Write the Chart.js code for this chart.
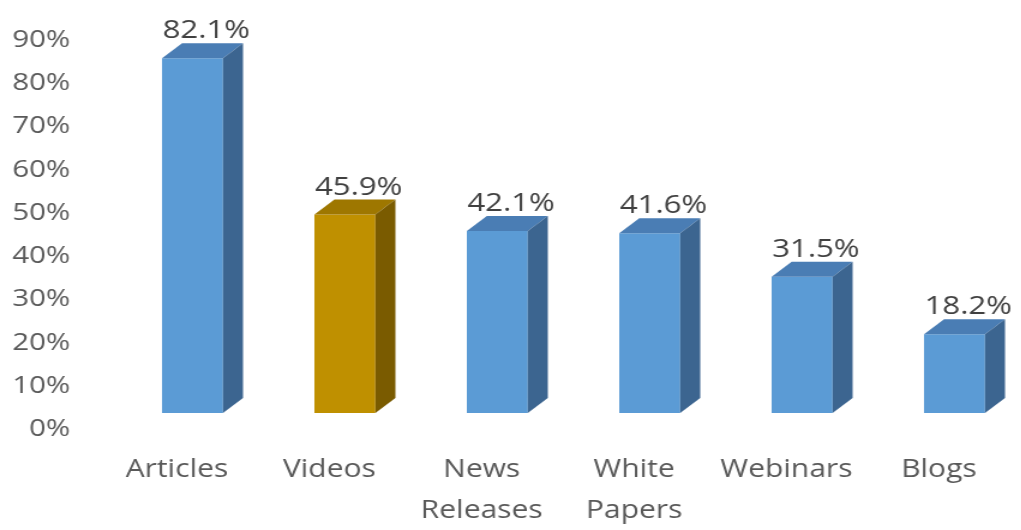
<!DOCTYPE html>
<html>
<head>
<meta charset="utf-8">
<script src="https://cdn.jsdelivr.net/npm/chart.js@4.4.1/dist/chart.umd.min.js"></script>
<style>
  html, body { margin: 0; padding: 0; background: #fff; overflow: hidden; }
  /* the drawing is widened a little, like the wide lettering of the original chart */
  #wrap { width: 851px; height: 530px; transform: scaleX(1.2); transform-origin: 0 0; }
</style>
</head>
<body>
<div id="wrap"><canvas id="contentChart" width="851" height="530"></canvas></div>
<script>
const categories = ['Articles', 'Videos', ['News', 'Releases'], ['White', 'Papers'], 'Webinars', 'Blogs'];
const shares = [82.1, 45.9, 42.1, 41.6, 31.5, 18.2];
const yTicks = [0, 10, 20, 30, 40, 50, 60, 70, 80, 90];

// face colours: front, top, side
const blue = ['#5b9bd5', '#4a7db4', '#3c6590'];
const gold = ['#bf9000', '#9e7700', '#7a5b00'];
const barFaces = categories.map((c, i) => (i === 1 ? gold : blue));

const DEPTH_X = 16.7;
const DEPTH_Y = 15;

// draws the top and right-hand faces of each column plus its value label
const columns3d = {
  id: 'columns3d',
  afterDatasetsDraw(chart) {
    const ctx = chart.ctx;
    const meta = chart.getDatasetMeta(0);
    ctx.save();
    meta.data.forEach((bar, i) => {
      const { x, y, base, width } = bar.getProps(['x', 'y', 'base', 'width'], true);
      const l = x - width / 2, r = x + width / 2;
      const faces = barFaces[i];

      ctx.fillStyle = faces[1];
      ctx.beginPath();
      ctx.moveTo(l, y);
      ctx.lineTo(r, y);
      ctx.lineTo(r + DEPTH_X, y - DEPTH_Y);
      ctx.lineTo(l + DEPTH_X, y - DEPTH_Y);
      ctx.closePath();
      ctx.fill();

      ctx.fillStyle = faces[2];
      ctx.beginPath();
      ctx.moveTo(r, y);
      ctx.lineTo(r + DEPTH_X, y - DEPTH_Y);
      ctx.lineTo(r + DEPTH_X, base - DEPTH_Y);
      ctx.lineTo(r, base);
      ctx.closePath();
      ctx.fill();

      ctx.fillStyle = '#404040';
      ctx.font = '26px "Open Sans"';
      ctx.textAlign = 'center';
      ctx.textBaseline = 'alphabetic';
      ctx.fillText(shares[i].toFixed(1) + '%', x + 11.5, y - 20);
    });
    ctx.restore();
  }
};

new Chart(document.getElementById('contentChart'), {
  type: 'bar',
  data: {
    labels: categories,
    datasets: [{
      data: shares,
      backgroundColor: barFaces.map(f => f[0]),
      borderWidth: 0,
      categoryPercentage: 1,
      barPercentage: 0.4,
      clip: false
    }]
  },
  options: {
    responsive: false,
    animation: false,
    layout: { padding: { top: 24, right: 55.6, bottom: 0, left: 0 } },
    plugins: { legend: { display: false }, tooltip: { enabled: false } },
    scales: {
      x: {
        offset: false,
        grid: { display: false, drawTicks: false },
        border: { display: false },
        ticks: {
          color: '#595959',
          font: { family: 'Open Sans', size: 25, lineHeight: 1.64 },
          padding: 36,
          labelOffset: -13,
          maxRotation: 0,
          autoSkip: false
        },
        afterFit(scale) {
          scale.height = 117;
          scale.paddingLeft = 0;
          scale.paddingRight = 0;
        }
      },
      y: {
        min: 0,
        max: 90,
        afterBuildTicks(scale) { scale.ticks = yTicks.map(v => ({ value: v })); },
        grid: { display: false, drawTicks: false },
        border: { display: false },
        ticks: {
          color: '#595959',
          font: { family: 'Open Sans', size: 24.5 },
          padding: 102,
          labelOffset: 16,
          callback: v => v + '%'
        },
        afterFit(scale) {
          scale.width = 160.4;
          // the wide label gap should not push the plot area down
          scale.paddingTop = 0;
          scale.paddingBottom = 0;
        }
      }
    }
  },
  plugins: [columns3d]
});
</script>
</body>
</html>
